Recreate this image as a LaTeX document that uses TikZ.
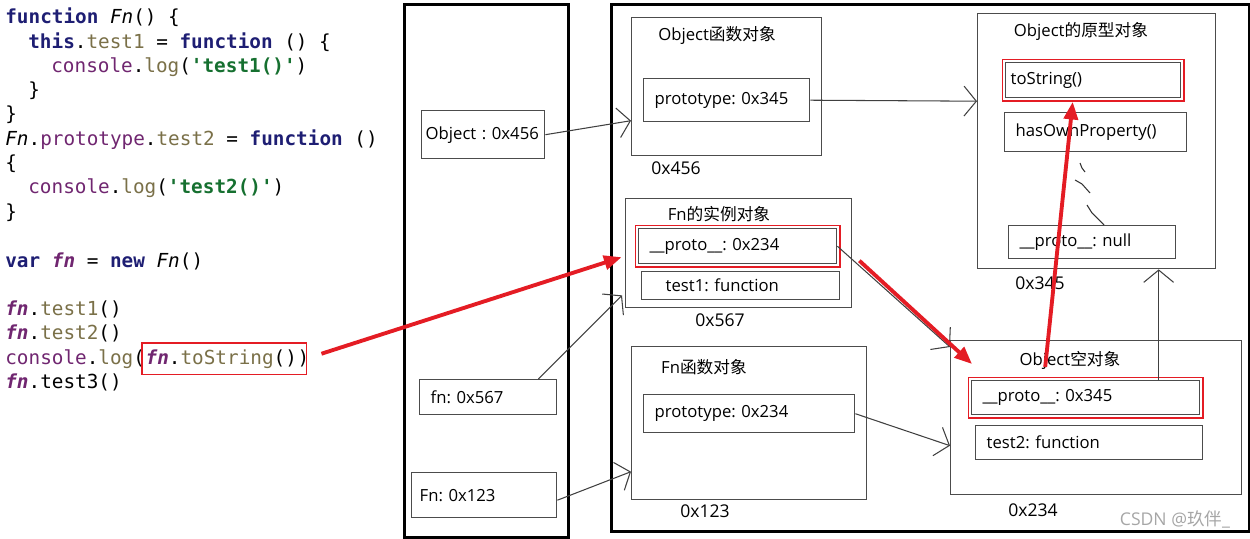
\documentclass[tikz,border=0pt]{standalone}
\usepackage{fontspec}
\usepackage{xcolor}
\usepackage{tikz}
\usetikzlibrary{arrows.meta,positioning,calc,fit}
\setmainfont{Open Sans}
\setmonofont{DejaVu Sans Mono}
\newfontfamily\cjkfont{Noto Sans CJK SC}
\definecolor{kwblue}{RGB}{30,30,115}
\definecolor{objpurple}{RGB}{112,38,112}
\definecolor{propolive}{RGB}{122,112,72}
\definecolor{strgreen}{RGB}{22,112,48}
\definecolor{markred}{RGB}{228,28,36}
\newcommand{\jskw}[1]{\textcolor{kwblue}{\bfseries #1}}
\newcommand{\jsobj}[1]{\textcolor{objpurple}{#1}}
\newcommand{\jsprop}[1]{\textcolor{propolive}{#1}}
\newcommand{\jsstr}[1]{\textcolor{strgreen}{\bfseries #1}}
\newcommand{\jsvar}[1]{\textcolor{objpurple}{\bfseries\itshape #1}}
\newcommand{\zh}[1]{{\cjkfont #1}}
\frenchspacing

\begin{document}
\begin{tikzpicture}[
    x=0.02cm, y=-0.02cm,
    every node/.style={font=\fontsize{9.5}{11}\selectfont},
    code/.style={anchor=base west, inner sep=0pt, font=\ttfamily\fontsize{11}{13}\selectfont},
    region/.style={draw=black, line width=1.8pt, anchor=north west},
    obj/.style={draw=black!70, line width=0.8pt, anchor=north west},
    field/.style={draw=black!70, line width=0.8pt, anchor=north west, align=left,
                  inner xsep=0.22cm, inner ysep=0pt},
    title/.style={inner sep=0pt},
    addr/.style={inner sep=0pt, font=\fontsize{10}{12}\selectfont},
    redframe/.style={draw=markred, line width=1.1pt, inner sep=0.05cm},
    ptr/.style={draw=black!75, line width=0.6pt, -{Straight Barb[length=7pt,width=17pt]}},
    redarrow/.style={draw=markred, line width=2.2pt, -{Triangle[length=10pt,width=8pt]}}
]
\useasboundingbox (0,0) rectangle (1250,538);

% Source code
\node[code] (l1)  at (5,23)   {\jskw{function} \textit{Fn}() \{};
\node[code] (l2)  at (28,48)  {\jskw{this}.\jsprop{test1} = \jskw{function} () \{};
\node[code] (l3)  at (51,72)  {\jsobj{console}.\jsprop{log}(\jsstr{'test1()'})};
\node[code] (l4)  at (28,96)  {\}};
\node[code] (l5)  at (5,120)  {\}};
\node[code] (l6)  at (5,145)  {\textit{Fn}.\jsobj{prototype}.\jsprop{test2} = \jskw{function} ()};
\node[code] (l7)  at (5,169)  {\{};
\node[code] (l8)  at (28,193) {\jsobj{console}.\jsprop{log}(\jsstr{'test2()'})};
\node[code] (l9)  at (5,218)  {\}};
\node[code] (l10) at (5,267)  {\jskw{var} \jsvar{fn} = \jskw{new} \textit{Fn}()};
\node[code] (l11) at (5,315)  {\jsvar{fn}.\jsprop{test1}()};
\node[code] (l12) at (5,339)  {\jsvar{fn}.\jsprop{test2}()};
\node[code] (l13) at (5,364)  {\jsobj{console}.\jsprop{log}(};
\node[code] (calltostr) at (l13.base east) {\jsvar{fn}.\jsprop{toString}()};
\node[code] (l13b) at (calltostr.base east) {)};
\node[code] (l14) at (5,388)  {\jsvar{fn}.test3()};
\node[redframe, inner xsep=0.06cm, inner ysep=0.12cm, fit=(calltostr) (l13b.center)] (codemark) {};

% Stack and heap
\node[region, minimum width=3.28cm, minimum height=10.66cm] (stack) at (403,3) {};
\node[region, minimum width=12.76cm, minimum height=10.54cm] (heap) at (610,3) {};

% Stack slots
\node[field, inner xsep=0.08cm, text width=2.30cm, minimum height=0.96cm] (obj456) at (421,110) {Object : 0x456};
\node[field, text width=2.30cm, minimum height=0.70cm] (fn567) at (419,379) {fn: 0x567};
\node[field, inner xsep=0.16cm, text width=2.58cm, minimum height=0.90cm] (Fn123) at (411,472) {Fn: 0x123};

% Object function object
\node[obj, minimum width=3.80cm, minimum height=2.76cm] (objfun) at (631,17) {};
\node[title] (objfuntitle) at (717,35) {Object\zh{函数对象}};
\node[field, text width=2.88cm, minimum height=0.86cm] (proto345f) at (643,78) {prototype: 0x345};
\node[addr] (addr456) at (676,168) {0x456};

% Fn instance
\node[obj, minimum width=4.52cm, minimum height=2.18cm] (fninst) at (625,198) {};
\node[title] (fninsttitle) at (719,214) {Fn\zh{的实例对象}};
\node[field, text width=3.52cm, minimum height=0.70cm] (proto234i) at (638,228) {\_\_proto\_\_: 0x234};
\node[field, inner xsep=0.48cm, text width=3.00cm, minimum height=0.56cm] (test1f) at (641,271) {test1: function};
\node[addr] (addr567) at (720,320) {0x567};
\node[redframe, fit=(proto234i)] (markinst) {};

% Fn function object
\node[obj, minimum width=4.70cm, minimum height=3.06cm] (fnfun) at (631,346) {};
\node[title] (fnfuntitle) at (704,367) {Fn\zh{函数对象}};
\node[field, text width=3.78cm, minimum height=0.76cm] (proto234f) at (643,394) {prototype: 0x234};
\node[addr] (addr123) at (705,511) {0x123};

% Object prototype
\node[obj, minimum width=4.76cm, minimum height=5.10cm] (objproto) at (977,13) {};
\node[title] (objprototitle) at (1081,31) {Object\zh{的原型对象}};
\node[field, inner xsep=0.10cm, text width=3.30cm, minimum height=0.70cm] (tostrf) at (1005,62) {toString()};
\node[field, text width=3.20cm, minimum height=0.78cm] (hasown) at (1004,112) {hasOwnProperty()};
\node[field, text width=2.90cm, minimum height=0.66cm] (protonull) at (1008,225) {\_\_proto\_\_: null};
\node[addr] (addr345) at (1040,283) {0x345};
\node[redframe, fit=(tostrf)] (markstr) {};
\draw[black!80, line width=0.6pt] (1080,163) -- (1082,168) -- (1085,172);
\draw[black!80, line width=0.6pt] (1075,180) -- (1082,184) -- (1090,193);
\draw[black!80, line width=0.6pt] (1087,205) -- (1092,213) -- (1104,225);

% Empty object (Fn.prototype)
\node[obj, minimum width=5.82cm, minimum height=3.08cm] (objempty) at (950,340) {};
\node[title] (objemptytitle) at (1070,360) {Object\zh{空对象}};
\node[field, text width=4.12cm, minimum height=0.68cm] (proto345e) at (971,380) {\_\_proto\_\_: 0x345};
\node[field, text width=4.10cm, minimum height=0.68cm] (test2f) at (975,425) {test2: function};
\node[addr] (addr234) at (1033,510) {0x234};
\node[redframe, fit=(proto345e)] (markproto) {};

\node[text=black!35, inner sep=0pt, font=\fontsize{10}{12}\selectfont] (csdn) at (1175,519) {CSDN @\zh{玖伴}\_};

% Pointers
\draw[ptr] (obj456.east) -- ([yshift=-0.68cm]objfun.west);
\draw[ptr] (proto345f.east) -- ([yshift=0.8cm]objproto.west);
\draw[ptr] ([xshift=-0.38cm]fn567.north east) -- ([shift={(-0.06cm,0.26cm)}]fninst.south west);
\draw[ptr] ([yshift=-0.1cm]Fn123.east) -- ([yshift=-0.97cm]fnfun.west);
\draw[ptr] (proto234i.east) -- ([yshift=-0.14cm]objempty.north west);
\draw[ptr] (proto234f.east) -- ([yshift=-0.56cm]objempty.west);
\coordinate (upfrom) at ([xshift=1.46cm]proto345e.north);
\draw[ptr] (upfrom) -- (upfrom |- objproto.south);

% Lookup path
\draw[redarrow] ([shift={(0.28cm,0.1cm)}]codemark.east) -- ([shift={(-0.26cm,-0.22cm)}]markinst.west);
\draw[redarrow] ([shift={(0.14cm,-0.15cm)}]fninst.east) -- ([shift={(0.09cm,0.25cm)}]markproto.north west);
\draw[redarrow] ([shift={(-0.81cm,0.19cm)}]markproto.north) -- ([xshift=-0.41cm]markstr.south);

\end{tikzpicture}
\end{document}
